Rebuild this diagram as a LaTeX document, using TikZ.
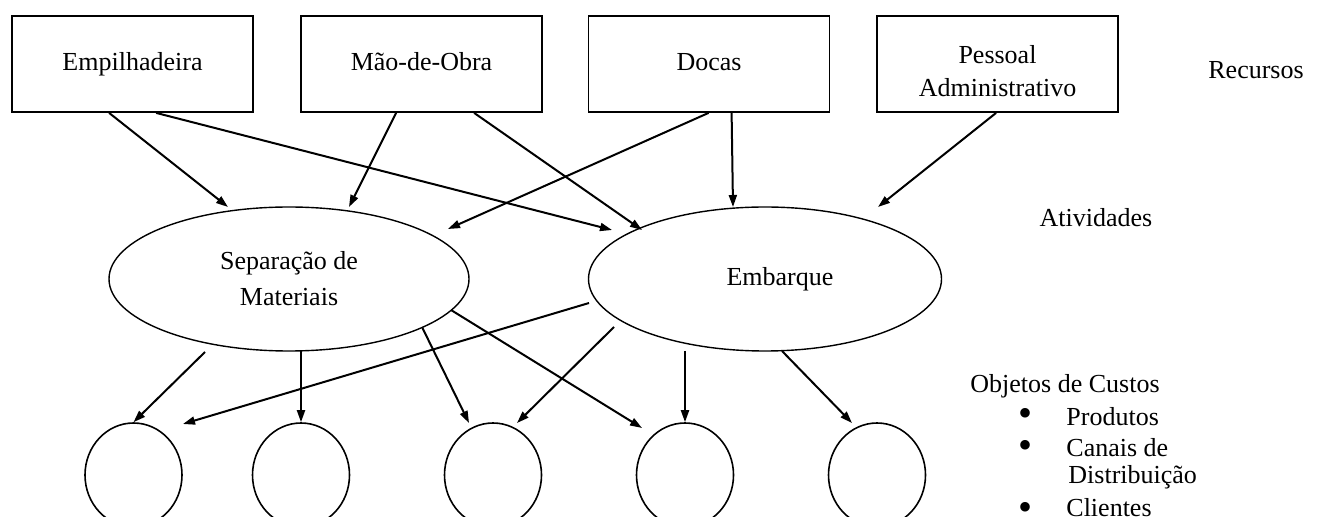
\documentclass[tikz,border=0pt]{standalone}
\usepackage{fontspec}
\setmainfont{Liberation Serif}
\usetikzlibrary{arrows.meta,calc,shapes.geometric}
\begin{document}
\begin{tikzpicture}[x=0.5pt,y=-0.5pt,
  txt/.style={font=\fontsize{13}{16.5}\selectfont, inner sep=0pt},
  resbox/.style={draw, line width=0.9pt, minimum width=120.5pt, minimum height=48pt,
    inner sep=0pt, align=center, font=\fontsize{13}{16.5}\selectfont},
  oneline/.style={text height=9.2pt, text depth=2.9pt},
  actell/.style={draw, ellipse, line width=0.7pt, minimum height=72pt, inner sep=0pt,
    align=center, font=\fontsize{13}{18}\selectfont},
  objell/.style={draw, ellipse, line width=0.8pt, minimum width=48.5pt, minimum height=52pt, inner sep=0pt},
  arr/.style={-{Triangle[length=6pt,width=4pt]}, line width=1pt},
  bul/.style={inner sep=0pt, anchor=center, font=\fontsize{20}{20}\selectfont}
]
\useasboundingbox (0,0) rectangle (1320,517);
\clip (0,0) rectangle (1320,517);

% resources
\node[resbox, oneline] (emp) at (132.5,64) {Empilhadeira};
\node[resbox, oneline] (mao) at (421.5,64) {Mão-de-Obra};
\node[resbox, oneline] (doc) at (709,64) {Docas};
\node[resbox, text height=33pt, text depth=0pt] (pes) at (997.5,64) {Pessoal\\Administrativo};

% activities
\node[actell, minimum width=180pt] (sep) at (289,279) {Separação de\\Materiais};
\node[actell, minimum width=176.5pt, text height=9.2pt, text depth=2.9pt] (emb) at (765,279) {\hspace*{15pt}Embarque};

% cost objects
\node[objell] (c1) at (133.5,475) {};
\node[objell] (c2) at (301,475) {};
\node[objell] (c3) at (493,475) {};
\node[objell] (c4) at (685,475) {};
\node[objell] (c5) at (877,475) {};

% side labels
\node[txt] (rec) at (1256,70) {Recursos};
\node[txt] (ativ) at (1096,218) {Atividades};
\node[txt, anchor=base west] (obj) at (970,393) {Objetos de Custos};
\node[bul] (b1) at (1025,417) {\textbullet};
\node[txt, anchor=base west] (prod) at (1066,425) {Produtos};
\node[bul] (b2) at (1025,449) {\textbullet};
\node[txt, anchor=base west, align=left, font=\fontsize{13}{13.5}\selectfont] (can) at (1066,483) {Canais de\\\hspace*{1pt}Distribuição};
\node[bul] (b3) at (1025,511) {\textbullet};
\node[txt, anchor=base west] (cli) at (1066,516) {Clientes};

% resources -> activities
\draw[arr] ($(emp.south west)+(98,0)$) -- ($(sep.center)+(-61,-72)$);
\draw[arr] ($(emp.south west)+(145,0)$) -- ($(emb.center)+(-153,-49)$);
\draw[arr] ($(mao.south west)+(96,0)$) -- ($(sep.center)+(60,-72)$);
\draw[arr] ($(mao.south west)+(174,0)$) -- ($(emb.center)+(-123,-49)$);
\draw[arr] ($(doc.south west)+(121,0)$) -- ($(sep.center)+(159,-50)$);
\draw[arr] ($(doc.south west)+(144,0)$) -- ($(emb.center)+(-32,-72)$);
\draw[arr] ($(pes.south west)+(120,0)$) -- ($(emb.center)+(113,-72)$);

% activities -> cost objects
\draw[arr] ($(sep.center)+(-84,73)$) -- (c1.north);
\draw[arr] ($(sep.center)+(12,72)$) -- (c2.north);
\draw[arr] ($(sep.center)+(133,48)$) -- ($(c3.center)+(-24,-52)$);
\draw[arr] ($(sep.center)+(162,31)$) -- ($(c4.center)+(-43,-47)$);
\draw[arr] ($(emb.center)+(-176,24)$) -- ($(c1.center)+(49.5,-51)$);
\draw[arr] ($(emb.center)+(-151,48)$) -- ($(c3.center)+(24,-52)$);
\draw[arr] ($(emb.center)+(-80,72)$) -- (c4.north);
\draw[arr] ($(emb.center)+(17,72)$) -- ($(c5.center)+(-25,-52)$);
\end{tikzpicture}
\end{document}
